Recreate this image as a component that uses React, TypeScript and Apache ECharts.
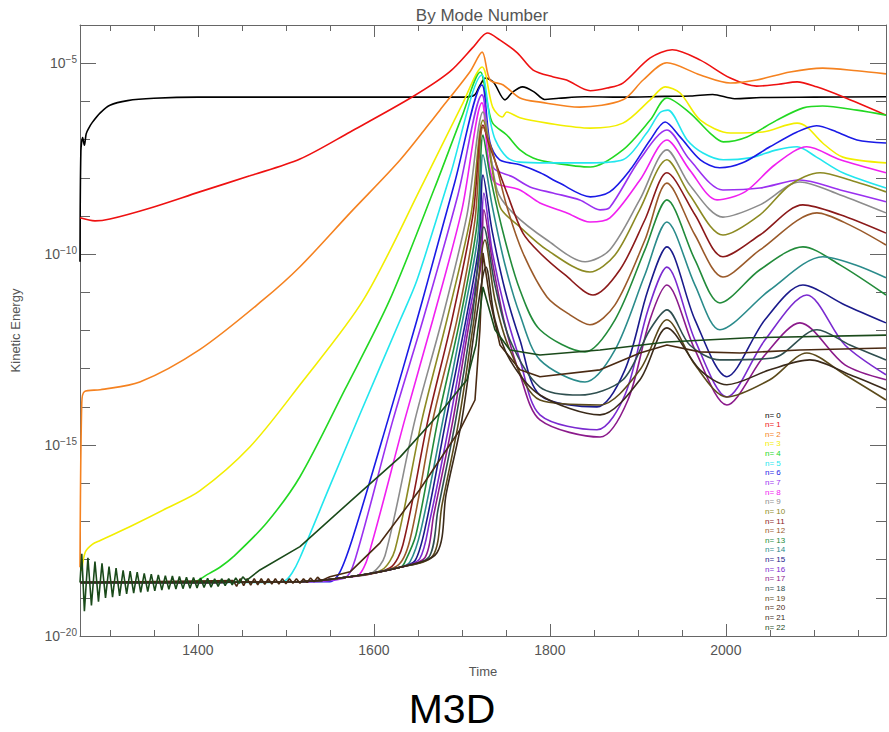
import { useEffect, useRef } from "react";
import * as echarts from "echarts";

// ---- axis ranges / ticks ----
const xMin = 1266;
const xMax = 2182;
const yMin = -20; // log10(Kinetic Energy)
const yMax = -4;
const xMajorTicks = [1400, 1600, 1800, 2000];
const xMinorTicks = [1300, 1350, 1450, 1500, 1550, 1650, 1700, 1750, 1850, 1900, 1950, 2050, 2100, 2150];
const yMajorTicks = [-20, -15, -10, -5];
const yMinorTicks = [-19, -18, -17, -16, -14, -13, -12, -11, -9, -8, -7, -6];

// ---- legend / series names & colours ----
const modeNames = [
  "n= 0", "n= 1", "n= 2", "n= 3", "n= 4", "n= 5", "n= 6", "n= 7", "n= 8", "n= 9", "n= 10", "n= 11",
  "n= 12", "n= 13", "n= 14", "n= 15", "n= 16", "n= 17", "n= 18", "n= 19", "n= 20", "n= 21", "n= 22",
];
const modeColors = [
  "#000000", "#ee1111", "#f58220", "#f2ee00", "#22d822", "#22e6ee", "#1a1ae6", "#9a30f0", "#f020f0",
  "#8c8c8c", "#8c8a23", "#8b1a1a", "#9a5a2a", "#228b3a", "#2a8b8b", "#1a1a8b", "#7a2ad0", "#8b1a8b",
  "#2f4f4f", "#5b4a1b", "#4a2a12", "#3a2a1a", "#1a4a1a",
];

// ---- data: [time, log10(kinetic energy)] ----
const floorLevel = [[1266, -18.6], [1516, -18.58], [1573, -18.45], [1630, -18.2]];

const mode0 = [[1266,-10.2],[1267,-7.3],[1269,-6.95],[1271,-7.15],[1273,-6.85],[1276,-6.7],[1280,-6.55],[1289,-6.3],[1300,-6.1],[1320,-5.98],[1350,-5.92],[1400,-5.89],[1500,-5.89],[1600,-5.89],[1700,-5.89],[1714,-5.84],[1720,-5.6],[1727,-5.39],[1736,-5.5],[1749,-5.96],[1758,-5.75],[1769,-5.62],[1782,-5.75],[1794,-5.95],[1810,-5.92],[1840,-5.88],[1880,-5.89],[1930,-5.87],[1960,-5.86],[1985,-5.82],[2010,-5.93],[2040,-5.9],[2100,-5.89],[2182,-5.88]];
const mode1 = [[1266,-9.05],[1283,-9.13],[1300,-9.08],[1346,-8.79],[1402,-8.37],[1459,-7.95],[1516,-7.51],[1573,-6.8],[1644,-5.88],[1686,-5.23],[1712,-4.6],[1723,-4.3],[1729,-4.21],[1743,-4.39],[1763,-4.73],[1781,-5.18],[1804,-5.36],[1819,-5.44],[1846,-5.72],[1865,-5.65],[1883,-5.52],[1914,-4.86],[1939,-4.65],[1971,-4.92],[2005,-5.39],[2035,-5.6],[2060,-5.55],[2081,-5.49],[2103,-5.62],[2133,-5.88],[2182,-6.36]];
const mode2 = [[1266,-18.2],[1268,-13.9],[1271,-13.6],[1289,-13.55],[1334,-13.35],[1402,-12.5],[1474,-11.2],[1516,-10.33],[1573,-8.92],[1630,-7.53],[1675,-6.23],[1709,-5.23],[1723,-4.71],[1732,-5.44],[1747,-5.57],[1766,-5.91],[1789,-6.02],[1834,-6.15],[1883,-5.96],[1906,-5.44],[1933,-4.99],[1971,-5.31],[2005,-5.52],[2035,-5.44],[2073,-5.23],[2110,-5.13],[2149,-5.2],[2182,-5.28]];
const mode3 = [[1268,-18.3],[1272,-17.8],[1280,-17.6],[1289,-17.5],[1326,-17.1],[1365,-16.65],[1402,-16.2],[1459,-15.05],[1516,-13.42],[1588,-11.2],[1656,-8.14],[1700,-6.1],[1723,-5.1],[1735,-6.15],[1746,-6.41],[1751,-6.28],[1766,-6.43],[1797,-6.57],[1846,-6.7],[1883,-6.57],[1914,-5.96],[1931,-5.62],[1948,-5.78],[1971,-6.49],[2005,-6.83],[2042,-6.8],[2081,-6.57],[2092,-6.67],[2110,-7.09],[2133,-7.46],[2182,-7.61]];
const mode4 = [[1395,-18.58],[1410,-18.4],[1425,-18.2],[1440,-17.93],[1478,-17.04],[1516,-15.83],[1567,-13.55],[1618,-11.2],[1669,-8.27],[1700,-6.4],[1721,-5.23],[1729,-6.04],[1735,-6.57],[1751,-6.88],[1766,-7.27],[1781,-7.48],[1804,-7.61],[1846,-7.72],[1883,-7.27],[1914,-6.49],[1933,-5.91],[1959,-6.3],[1982,-6.83],[1997,-7.06],[2024,-6.93],[2058,-6.49],[2088,-6.17],[2110,-6.12],[2149,-6.23],[2182,-6.36]];
const mode5 = [[1480,-18.6],[1499,-18.55],[1507,-18.35],[1516,-17.95],[1550,-16.07],[1584,-14.2],[1630,-11.72],[1649,-10.68],[1686.5,-7.95],[1722.8,-5.31],[1732,-6.49],[1738,-7.01],[1751,-7.46],[1766,-7.59],[1797,-7.61],[1846,-7.61],[1883,-7.53],[1910,-6.83],[1925,-6.3],[1934,-6.23],[1956,-7.01],[1974,-7.35],[1997,-7.53],[2027,-7.48],[2058,-7.27],[2081,-7.19],[2103,-7.46],[2133,-7.87],[2182,-8.27]];
const mode6 = [[1550,-18.58],[1561.5,-18.32],[1577,-17.35],[1616,-14.34],[1649,-11.72],[1661.5,-10.68],[1692,-8.11],[1722.8,-5.57],[1732,-7.09],[1743,-7.53],[1766,-7.66],[1789,-7.87],[1811,-8.14],[1846,-8.5],[1868,-8.37],[1891,-7.8],[1914,-7.01],[1931,-6.54],[1948,-6.93],[1971,-7.53],[1993,-7.74],[2019,-7.61],[2050,-7.19],[2081,-6.8],[2103,-6.64],[2126,-6.8],[2149,-7.01],[2182,-7.09]];
const mode7 = [[1567,-18.48],[1578.5,-18.01],[1621.7,-14.34],[1655.8,-11.72],[1695.5,-8.45],[1722.8,-5.83],[1735.3,-7.72],[1758,-7.98],[1777.4,-8.24],[1803.5,-8.4],[1834,-8.58],[1857,-8.84],[1868,-8.78],[1902,-7.53],[1933,-6.75],[1959,-7.53],[1996.7,-8.32],[2038.7,-8.27],[2084,-8.06],[2130,-8.32],[2182,-8.63]];
const mode8 = [[1582,-18.42],[1593,-17.95],[1635,-14.34],[1667,-11.72],[1700,-8.84],[1722.8,-6.04],[1735.3,-8.06],[1766,-8.32],[1788.7,-8.66],[1819.4,-8.92],[1845.5,-9.16],[1868.3,-9.05],[1902.4,-8.06],[1933,-7.01],[1959,-7.8],[1990,-8.58],[2021.7,-8.37],[2055.8,-7.66],[2092,-7.19],[2130,-7.53],[2182,-7.87]];
const mode9 = [[1598,-18.35],[1612.6,-17.9],[1646.7,-14.34],[1677.4,-11.72],[1705.8,-8.97],[1724,-6.28],[1740,-8.32],[1758,-8.92],[1796.7,-9.63],[1840,-10.2],[1868,-9.89],[1902,-8.58],[1933,-7.27],[1959,-8.19],[1996.7,-9.03],[2038.7,-8.71],[2084,-8.11],[2130,-8.45],[2182,-8.92]];
const mode10 = [[1609,-18.27],[1624,-17.74],[1654.6,-14.34],[1683,-11.72],[1710.3,-8.97],[1724,-6.49],[1743.3,-8.76],[1766,-9.29],[1796.7,-9.89],[1845.5,-10.47],[1874,-10.02],[1902,-8.84],[1933,-7.53],[1959,-8.45],[1996.7,-9.5],[2038.7,-8.97],[2072.8,-8.19],[2107,-7.87],[2141,-8.06],[2182,-8.37]];
const mode11 = [[1618,-18.22],[1633,-17.61],[1661.5,-14.34],[1688.7,-11.72],[1712.6,-8.97],[1724,-6.62],[1731.9,-7.19],[1751.2,-8.4],[1769.4,-9.45],[1788.7,-9.97],[1817,-10.54],[1849,-11.07],[1879.6,-10.41],[1908,-9.1],[1933,-7.87],[1964.9,-8.97],[1996.7,-10.07],[2038.7,-9.5],[2087.6,-8.71],[2130,-8.97],[2182,-9.45]];
const mode12 = [[1626,-18.17],[1641,-17.48],[1667,-14.34],[1694.4,-11.72],[1714.9,-9.1],[1724,-6.67],[1735.3,-7.35],[1751.2,-8.76],[1769.4,-9.97],[1796.7,-11.12],[1822.8,-11.59],[1845.5,-11.85],[1874,-11.33],[1908,-9.63],[1933,-8.14],[1964.9,-9.5],[1996.7,-10.6],[2038.7,-9.89],[2103.5,-8.92],[2141,-9.24],[2182,-9.76]];
const mode13 = [[1634,-18.12],[1647.8,-17.35],[1672.8,-14.34],[1697.8,-11.72],[1717.1,-9.24],[1724,-6.88],[1731.9,-7.93],[1749,-9.63],[1766,-10.94],[1788.7,-11.98],[1839.9,-12.56],[1874,-11.72],[1908,-9.89],[1933,-8.58],[1964.9,-10.15],[1993.3,-11.28],[2038.7,-10.41],[2087.6,-9.81],[2129.6,-10.28],[2182,-11.07]];
const mode14 = [[1641,-18.06],[1653.5,-17.22],[1678.5,-14.34],[1701,-11.72],[1718.3,-9.5],[1724,-7.4],[1734.2,-8.71],[1749,-10.28],[1766,-11.59],[1788.7,-12.77],[1839.9,-13.35],[1874,-12.51],[1908,-10.54],[1933,-9.16],[1964.9,-10.81],[1993.3,-11.98],[2050,-10.94],[2110.3,-10.07],[2146.7,-10.28],[2182,-10.62]];
const mode15 = [[1646.7,-18.03],[1659,-17.09],[1682,-14.34],[1704.6,-11.72],[1719.4,-9.76],[1724,-7.93],[1734.2,-9.37],[1749,-10.94],[1766,-12.25],[1788.7,-13.69],[1853.5,-14.0],[1885.3,-13.03],[1911.5,-10.94],[1933,-9.81],[1964.9,-11.72],[2001.2,-13.21],[2044.4,-11.72],[2087.6,-10.81],[2135.3,-11.33],[2182,-11.8]];
const mode16 = [[1652,-17.98],[1663.7,-16.96],[1686.5,-14.34],[1706.9,-11.72],[1720.5,-10.02],[1725,-8.4],[1734.2,-9.89],[1749,-11.46],[1766,-12.77],[1788.7,-14.21],[1853.5,-14.6],[1885.3,-13.69],[1911.5,-11.46],[1933,-10.34],[1964.9,-12.25],[2001.2,-13.74],[2044.4,-12.25],[2092,-11.07],[2135.3,-12.38],[2182,-13.16]];
const mode17 = [[1658,-17.95],[1668,-16.83],[1689.9,-14.34],[1709,-11.72],[1721.7,-10.28],[1725,-8.84],[1735.3,-10.28],[1749,-11.85],[1766,-13.16],[1788.7,-14.34],[1857,-14.79],[1888.7,-13.82],[1913.7,-11.72],[1933,-10.81],[1964.9,-12.51],[2001.2,-13.95],[2044.4,-12.64],[2084.2,-11.8],[2135.3,-12.9],[2182,-13.29]];
const mode18 = [[1662.6,-17.93],[1672.8,-16.7],[1693,-14.34],[1711.4,-11.72],[1725,-9.29],[1737.6,-10.81],[1754.6,-12.25],[1788.7,-13.48],[1834,-13.69],[1883,-13.29],[1913.7,-11.98],[1933,-11.46],[1959,-12.38],[1993.3,-12.77],[2053.5,-12.72],[2103.5,-11.98],[2141,-12.38],[2182,-12.77]];
const mode19 = [[1667,-17.9],[1677.4,-16.57],[1696.7,-14.34],[1713.7,-11.72],[1726.2,-9.63],[1737.6,-11.2],[1754.6,-12.51],[1788.7,-13.82],[1857,-13.95],[1902.4,-13.03],[1933,-11.72],[1964.9,-12.9],[2001.2,-13.74],[2050,-13.29],[2092,-12.59],[2135.3,-13.16],[2182,-13.82]];
const mode20 = [[1440,-18.55],[1444,-18.7],[1448,-18.5],[1452,-18.68],[1456,-18.5],[1460,-18.67],[1464,-18.5],[1468,-18.66],[1472,-18.5],[1476,-18.65],[1480,-18.5],[1484,-18.64],[1488,-18.5],[1492,-18.64],[1496,-18.5],[1500,-18.63],[1504,-18.5],[1508,-18.62],[1512,-18.5],[1516,-18.62],[1520,-18.5],[1524,-18.6],[1528,-18.48],[1532,-18.58],[1536,-18.46],[1540,-18.55],[1550,-18.45],[1573,-18.32],[1607,-17.56],[1652,-16.17],[1697.8,-14.6],[1714.9,-13.82],[1720.5,-11.98],[1724,-9.97],[1731.9,-11.2],[1743.3,-12.38],[1766,-13.03],[1788.7,-13.21],[1857,-13.03],[1902.4,-12.59],[1933,-12.38],[1970.5,-12.56],[2016,-12.59],[2084,-12.51],[2182,-12.46]];
const mode21 = [[1671.7,-17.82],[1682,-16.3],[1700,-14.34],[1716,-11.72],[1727.4,-10.34],[1737.6,-11.72],[1754.6,-12.77],[1788.7,-13.69],[1857,-14.21],[1902.4,-13.29],[1933,-11.93],[1970.5,-13.03],[2001.2,-13.42],[2050,-13.03],[2095.5,-12.77],[2141,-13.16],[2182,-13.55]];
const mode22 = [[1266,-18.6],[1268,-17.85],[1271,-19.35],[1275,-17.95],[1279,-19.2],[1283,-18.05],[1287,-19.1],[1291,-18.1],[1295,-19.0],[1299,-18.18],[1303,-18.98],[1307,-18.22],[1311,-18.95],[1315,-18.28],[1319,-18.9],[1323,-18.3],[1327,-18.88],[1331,-18.33],[1335,-18.86],[1339,-18.36],[1343,-18.84],[1347,-18.38],[1351,-18.82],[1355,-18.4],[1359,-18.8],[1363,-18.42],[1367,-18.78],[1371,-18.43],[1375,-18.77],[1379,-18.44],[1383,-18.76],[1387,-18.46],[1391,-18.75],[1395,-18.47],[1399,-18.74],[1403,-18.48],[1407,-18.73],[1411,-18.49],[1415,-18.72],[1419,-18.5],[1423,-18.7],[1427,-18.5],[1431,-18.68],[1435,-18.5],[1439,-18.66],[1443,-18.48],[1447,-18.62],[1451,-18.45],[1455,-18.55],[1470.5,-18.27],[1516,-17.66],[1584,-16.25],[1630,-15.31],[1675,-14.16],[1705.8,-13.29],[1716,-12.38],[1724,-10.86],[1737.6,-11.98],[1754.6,-12.51],[1788.7,-12.64],[1857,-12.51],[1933,-12.3],[2027,-12.19],[2182,-12.12]];

const modes = [mode0, mode1, mode2, mode3, mode4, mode5, mode6, mode7, mode8, mode9, mode10, mode11,
  mode12, mode13, mode14, mode15, mode16, mode17, mode18, mode19, mode20, mode21, mode22];

const FONT = "Liberation Sans, Arial, sans-serif";
const AX = "#666";
const TXT = "#555";

function withFloor(i: number, d: number[][]) {
  if (i < 4 || i === 22) return d;
  const first = d[0][0];
  return floorLevel.filter((p) => p[0] < first).concat(d);
}

export default function App() {
  const ref = useRef<HTMLDivElement>(null);
  useEffect(() => {
    document.body.style.margin = "0";
    const chart = echarts.init(ref.current!, null, { renderer: "svg" });
    const baseX = { type: "value", min: xMin, max: xMax, gridIndex: 0, splitLine: { show: false } };
    const baseY = { type: "value", min: yMin, max: yMax, gridIndex: 0, splitLine: { show: false } };
    const sup = (v: number) => `{b|10}{s|\u2212${-v}}`;
    chart.setOption({
      animation: false,
      grid: { left: 80, top: 25, width: 806, height: 611, containLabel: false },
      xAxis: [
        {
          ...baseX, position: "bottom",
          axisLine: { show: true, lineStyle: { color: AX, width: 1 } },
          axisTick: { show: true, inside: true, length: 12, customValues: xMajorTicks, lineStyle: { color: AX } },
          axisLabel: {
            show: true, customValues: xMajorTicks, margin: 7, color: TXT, fontSize: 14, fontFamily: FONT,
            formatter: (v: number) => String(v),
          },
          name: "Time", nameLocation: "middle", nameGap: 29,
          nameTextStyle: { color: TXT, fontSize: 13, fontFamily: FONT },
        },
        {
          ...baseX, position: "bottom", axisLine: { show: false },
          axisTick: { show: true, inside: true, length: 6, customValues: xMinorTicks, lineStyle: { color: AX } },
          axisLabel: { show: false },
        },
        {
          ...baseX, position: "top",
          axisLine: { show: true, lineStyle: { color: AX, width: 1 } },
          axisTick: { show: true, inside: true, length: 12, customValues: xMajorTicks, lineStyle: { color: AX } },
          axisLabel: { show: false },
        },
        {
          ...baseX, position: "top", axisLine: { show: false },
          axisTick: { show: true, inside: true, length: 6, customValues: xMinorTicks, lineStyle: { color: AX } },
          axisLabel: { show: false },
        },
      ],
      yAxis: [
        {
          ...baseY, position: "left",
          axisLine: { show: true, lineStyle: { color: AX, width: 1 } },
          axisTick: { show: true, inside: true, length: 16, customValues: yMajorTicks, lineStyle: { color: AX } },
          axisLabel: {
            show: true, customValues: yMajorTicks, margin: 3, formatter: sup,
            rich: {
              b: { fontSize: 14, color: TXT, fontFamily: FONT },
              s: { fontSize: 10, color: TXT, fontFamily: FONT, padding: [0, 0, 8, 0] },
            },
          },
          name: "Kinetic Energy", nameLocation: "middle", nameGap: 58, nameRotate: 90,
          nameTextStyle: { color: TXT, fontSize: 13, fontFamily: FONT },
        },
        {
          ...baseY, position: "left", axisLine: { show: false },
          axisTick: { show: true, inside: true, length: 10, customValues: yMinorTicks, lineStyle: { color: AX } },
          axisLabel: { show: false },
        },
        {
          ...baseY, position: "right",
          axisLine: { show: true, lineStyle: { color: AX, width: 1 } },
          axisTick: { show: true, inside: true, length: 16, customValues: yMajorTicks, lineStyle: { color: AX } },
          axisLabel: { show: false },
        },
        {
          ...baseY, position: "right", axisLine: { show: false },
          axisTick: { show: true, inside: true, length: 10, customValues: yMinorTicks, lineStyle: { color: AX } },
          axisLabel: { show: false },
        },
      ],
      legend: {
        orient: "vertical", left: 760, top: 411, itemGap: 1.64, itemWidth: 0, itemHeight: 8,
        icon: "none", selectedMode: false, padding: 0,
        textStyle: { fontSize: 8, lineHeight: 8, fontFamily: FONT, padding: 0 },
        data: modeNames.map((n, i) => ({ name: n, textStyle: { color: modeColors[i] } })),
      },
      graphic: [
        {
          type: "text", x: 482, y: 15, silent: true,
          style: { text: "By Mode Number", align: "center", verticalAlign: "middle", fontSize: 17, fill: TXT, fontFamily: FONT },
        },
        {
          type: "text", x: 452, y: 709, silent: true,
          style: {
            text: "M3D", align: "center", verticalAlign: "middle", fontSize: 41,
            fill: "#000", fontFamily: FONT,
          },
        },
      ],
      series: modes.map((d, i) => ({
        type: "line",
        name: modeNames[i],
        xAxisIndex: 0,
        yAxisIndex: 0,
        data: withFloor(i, d),
        showSymbol: false,
        symbol: "none",
        smooth: i === 22 || i === 20 ? false : 0.3,
        lineStyle: { width: 1.6, color: modeColors[i] },
        itemStyle: { color: modeColors[i] },
        emphasis: { disabled: true },
        silent: true,
      })),
    });
    return () => chart.dispose();
  }, []);
  return <div ref={ref} style={{ width: 889, height: 732 }} />;
}
